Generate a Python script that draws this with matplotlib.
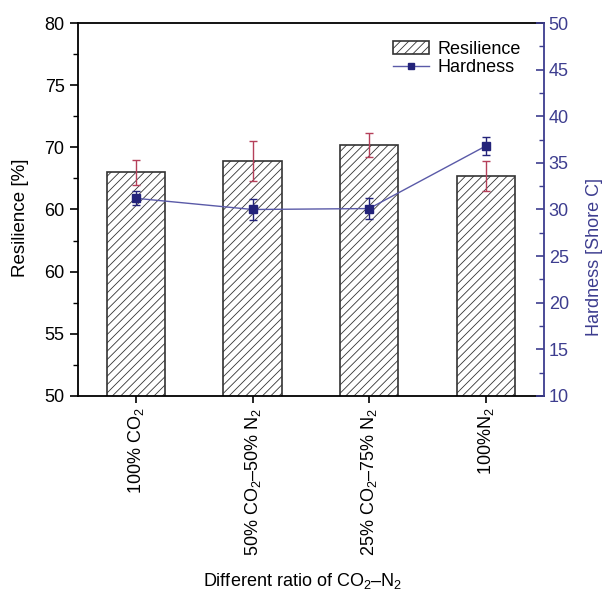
import matplotlib
matplotlib.use('Agg')
import matplotlib.pyplot as plt
from matplotlib.lines import Line2D
import numpy as np

plt.rcParams['font.family'] = ['Liberation Sans', 'DejaVu Sans']
plt.rcParams['hatch.color'] = '#7a7a7a'
plt.rcParams['hatch.linewidth'] = 0.6
plt.rcParams['mathtext.fontset'] = 'custom'
plt.rcParams['mathtext.rm'] = 'Liberation Sans'

categories = ['100% CO$_2$', '50% CO$_2$–50% N$_2$', '25% CO$_2$–75% N$_2$', '100%N$_2$']
resilience = [68.0, 68.9, 70.2, 67.7]
resilience_err = [1.0, 1.58, 0.97, 1.23]
hardness = [31.2, 30.0, 30.1, 36.8]
hardness_err = [0.75, 1.16, 1.14, 0.95]
left_ticks = [50, 55, 60, 65, 70, 75, 80]
left_labels = ['50', '55', '60', '60', '70', '75', '80']  # as printed in the source figure
right_ticks = [10, 15, 20, 25, 30, 35, 40, 45, 50]

navy = '#23237a'
axis_blue = '#3d3d8f'
line_blue = '#5a5aa8'
err_red = '#b5405a'

fig = plt.figure(figsize=(6.03, 5.96), dpi=100)
ax = fig.add_axes([0.129, 0.3356, 0.773, 0.6258])
x = np.arange(len(categories))

ax.bar(x, resilience, width=0.5, color='white', edgecolor='#333333',
       linewidth=1.2, hatch='////', label='Resilience', zorder=2)
ax.errorbar(x, resilience, yerr=resilience_err, fmt='none', ecolor=err_red,
            elinewidth=1.0, capsize=3, capthick=1.0, zorder=3)

ax.set_xlim(-0.5, 3.5)
ax.set_ylim(50, 80)
ax.set_yticks(left_ticks)
ax.set_yticklabels(left_labels)
ax.set_yticks(np.arange(52.5, 80, 5), minor=True)
ax.set_xticks(x)
ax.set_xticklabels(categories, rotation=90)
ax.tick_params(axis='y', which='major', direction='out', length=6, width=1.2, labelsize=13)
ax.tick_params(axis='y', which='minor', direction='out', length=3.5, width=1.0)
ax.tick_params(axis='x', direction='out', length=5, width=1.2, labelsize=13)
ax.set_ylabel('Resilience [%]', fontsize=13.5)
ax.yaxis.set_label_coords(-0.105, 0.477)
ax.set_xlabel('Different ratio of CO$_2$–N$_2$', fontsize=13)
ax.xaxis.set_label_coords(0.483, -0.47)
for s in ['left', 'bottom', 'top']:
    ax.spines[s].set_linewidth(1.3)
ax.spines['right'].set_visible(False)

ax2 = ax.twinx()
ax2.errorbar(x, hardness, yerr=hardness_err, color=line_blue, ecolor=navy,
             elinewidth=1.0, capsize=3, capthick=1.0, linewidth=1.0,
             marker='s', markersize=6, markerfacecolor=navy, markeredgecolor=navy,
             zorder=4)
ax2.set_ylim(10, 50)
ax2.set_yticks(right_ticks)
ax2.set_yticks(np.arange(12.5, 50, 5), minor=True)
ax2.tick_params(axis='y', which='major', direction='in', length=6, width=1.2,
                colors=axis_blue, labelsize=13)
ax2.tick_params(axis='y', which='minor', direction='in', length=3.5, width=1.0,
                colors=axis_blue)
ax2.set_ylabel('Hardness [Shore C]', fontsize=13, color=axis_blue)
ax2.yaxis.set_label_coords(1.09, 0.373)
ax2.spines['right'].set_color(axis_blue)
ax2.spines['right'].set_linewidth(1.3)
for s in ['left', 'bottom', 'top']:
    ax2.spines[s].set_visible(False)

h1, l1 = ax.get_legend_handles_labels()
hard_handle = Line2D([], [], color=line_blue, linewidth=1.0, marker='s',
                     markersize=4.5, markerfacecolor=navy, markeredgecolor=navy)
ax2.legend(h1 + [hard_handle], l1 + ['Hardness'], loc='upper right', frameon=False,
           fontsize=13, handlelength=2.0, handletextpad=0.5, borderaxespad=0.6,
           labelspacing=0.05, bbox_to_anchor=(0.99, 1.0))

fig.savefig('out.png', dpi=100)
